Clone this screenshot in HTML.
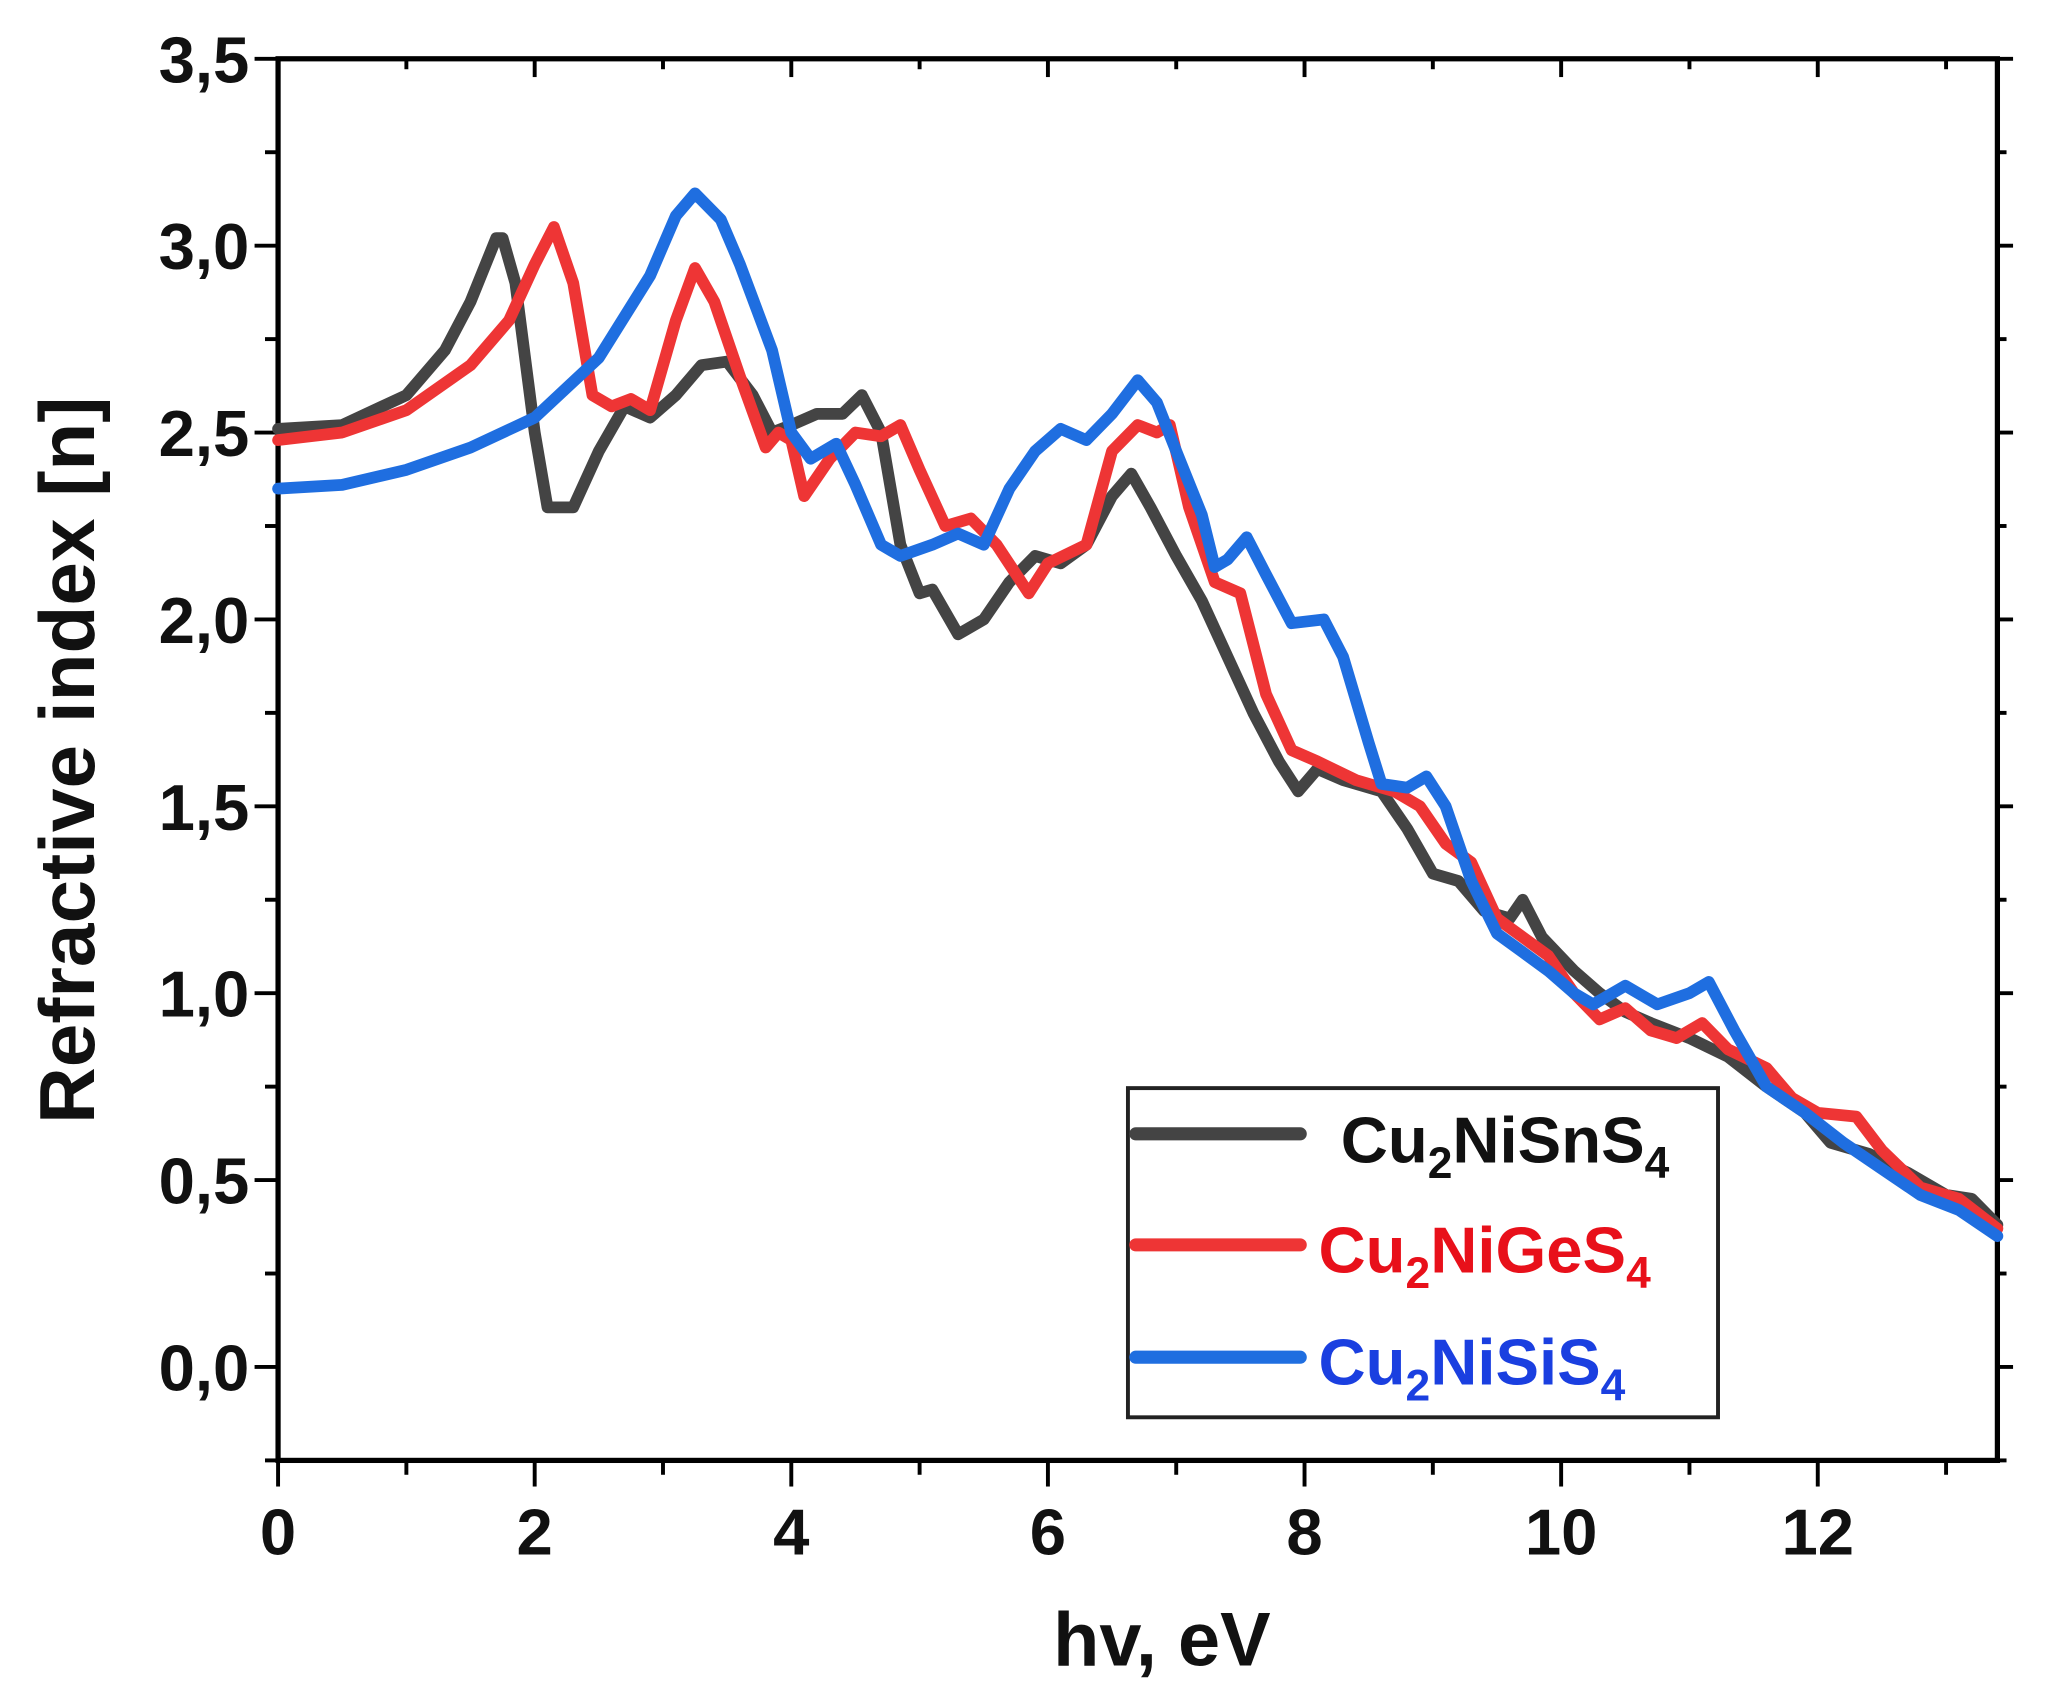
<!DOCTYPE html>
<html><head><meta charset="utf-8"><style>
html,body{margin:0;padding:0;background:#fff;}
svg{display:block;}
text{font-family:"Liberation Sans",Arial,sans-serif;font-weight:bold;}
</style></head><body>
<svg id="chart" width="2047" height="1689" viewBox="0 0 1568 1293" preserveAspectRatio="none" xmlns="http://www.w3.org/2000/svg">
<g id="axes"></g>
<g id="series"></g>
<g id="legend">
<rect x="864" y="833" width="452" height="252" fill="#fff" stroke="#222" stroke-width="3"/>
<line x1="870" y1="868" x2="996" y2="868" stroke="#444" stroke-width="10" stroke-linecap="round"/>
<line x1="870" y1="953" x2="996" y2="953" stroke="#ee3535" stroke-width="10" stroke-linecap="round"/>
<line x1="870" y1="1039" x2="996" y2="1039" stroke="#1f6ee0" stroke-width="10" stroke-linecap="round"/>
<text x="1027" y="890" font-size="50" fill="#111">Cu<tspan font-size="34" dy="12">2</tspan><tspan dy="-12">NiSnS</tspan><tspan font-size="34" dy="12">4</tspan></text>
<text x="1010" y="974" font-size="50" fill="#e8101a">Cu<tspan font-size="34" dy="12">2</tspan><tspan dy="-12">NiGeS</tspan><tspan font-size="34" dy="12">4</tspan></text>
<text x="1010" y="1060" font-size="50" fill="#1a3fe0">Cu<tspan font-size="34" dy="12">2</tspan><tspan dy="-12">NiSiS</tspan><tspan font-size="34" dy="12">4</tspan></text>
</g>
<text x="890" y="1275" font-size="58" text-anchor="middle" fill="#111">hv, eV</text>
<text transform="translate(72,582) rotate(-90)" font-size="60" text-anchor="middle" fill="#111">Refractive index [n]</text>
</svg>
<script>
const xTicks = [0,2,4,6,8,10,12];
const yTicks = [0.0,0.5,1.0,1.5,2.0,2.5,3.0,3.5];
const yTickLabels = ["0,0","0,5","1,0","1,5","2,0","2,5","3,0","3,5"];
const snX = [0,0.5,1,1.3,1.5,1.7,1.75,1.85,2.0,2.1,2.3,2.5,2.7,2.9,3.1,3.3,3.5,3.7,3.85,4.0,4.2,4.4,4.55,4.7,4.85,5.0,5.1,5.3,5.5,5.7,5.9,6.1,6.3,6.5,6.65,6.8,7.0,7.2,7.4,7.6,7.8,7.95,8.1,8.3,8.6,8.8,9.0,9.2,9.4,9.6,9.7,9.85,10.1,10.3,10.5,10.7,11.0,11.3,11.6,11.9,12.1,12.4,12.7,13.0,13.2,13.4];
const snY = [2.51,2.52,2.6,2.72,2.85,3.02,3.02,2.9,2.5,2.3,2.3,2.45,2.57,2.54,2.6,2.68,2.69,2.6,2.5,2.52,2.55,2.55,2.6,2.5,2.2,2.07,2.08,1.96,2.0,2.1,2.17,2.15,2.2,2.33,2.39,2.3,2.17,2.05,1.9,1.75,1.62,1.54,1.6,1.57,1.54,1.44,1.32,1.3,1.22,1.2,1.25,1.15,1.06,1.0,0.95,0.92,0.88,0.83,0.75,0.68,0.6,0.57,0.52,0.46,0.45,0.38];
const geX = [0,0.5,1,1.5,1.8,2.0,2.15,2.3,2.45,2.6,2.75,2.9,3.1,3.25,3.4,3.6,3.8,3.9,4.0,4.1,4.3,4.5,4.7,4.85,5.0,5.2,5.4,5.6,5.85,6.0,6.3,6.5,6.7,6.85,6.95,7.1,7.3,7.5,7.7,7.9,8.1,8.4,8.7,8.9,9.1,9.3,9.5,9.7,9.9,10.1,10.3,10.5,10.7,10.9,11.1,11.3,11.6,11.8,12.0,12.3,12.5,12.8,13.1,13.4];
const geY = [2.48,2.5,2.56,2.68,2.8,2.95,3.05,2.9,2.6,2.57,2.59,2.56,2.8,2.94,2.85,2.65,2.46,2.5,2.48,2.33,2.43,2.5,2.49,2.52,2.4,2.25,2.27,2.2,2.07,2.15,2.2,2.45,2.52,2.5,2.52,2.3,2.1,2.07,1.8,1.65,1.62,1.57,1.54,1.5,1.4,1.35,1.2,1.15,1.1,1.0,0.93,0.96,0.9,0.88,0.92,0.85,0.8,0.72,0.68,0.67,0.58,0.48,0.45,0.37];
const siX = [0,0.5,1,1.5,2,2.5,2.9,3.1,3.25,3.45,3.6,3.85,4.0,4.15,4.35,4.5,4.7,4.85,5.1,5.3,5.5,5.7,5.9,6.1,6.3,6.5,6.7,6.85,7.0,7.2,7.3,7.4,7.55,7.7,7.9,8.15,8.3,8.5,8.6,8.8,8.95,9.1,9.3,9.5,9.7,9.9,10.1,10.25,10.5,10.75,11.0,11.15,11.35,11.6,11.9,12.2,12.5,12.8,13.1,13.4];
const siY = [2.35,2.36,2.4,2.46,2.54,2.7,2.92,3.08,3.14,3.07,2.95,2.72,2.5,2.43,2.47,2.36,2.2,2.17,2.2,2.23,2.2,2.35,2.45,2.51,2.48,2.55,2.64,2.58,2.45,2.28,2.14,2.16,2.22,2.12,1.99,2.0,1.9,1.67,1.56,1.55,1.58,1.5,1.3,1.16,1.11,1.06,1.0,0.97,1.02,0.97,1.0,1.03,0.9,0.75,0.68,0.6,0.53,0.46,0.42,0.35];

const L=213,R=1530,T=45,B=1118;
const X0=0,X1=13.4,Y0=-0.25,Y1=3.5;
const sx=v=>L+(v-X0)/(X1-X0)*(R-L);
const sy=v=>B-(v-Y0)/(Y1-Y0)*(B-T);
const NS="http://www.w3.org/2000/svg";
function mk(tag,attrs,parent){const e=document.createElementNS(NS,tag);for(const k in attrs)e.setAttribute(k,attrs[k]);parent.appendChild(e);return e;}
const ax=document.getElementById('axes');
let frame=mk('rect',{x:L,y:T,width:R-L,height:B-T,fill:'none',stroke:'#000','stroke-width':4},ax);


for(let v=0;v<=13;v++){
  const maj=v%2===0, x=sx(v);
  let t=mk('line',{x1:x,y1:B,x2:x,y2:B+(maj?20:11),stroke:'#000','stroke-width':3},ax);
  
  
  let t2=mk('line',{x1:x,y1:T,x2:x,y2:T+(maj?14:8),stroke:'#000','stroke-width':3},ax);
  
  
}
xTicks.forEach(v=>{
  let tx=mk('text',{x:sx(v),y:B+72,'font-size':50,'text-anchor':'middle',fill:'#111'},ax);
  tx.textContent=String(v);
  
  
});
for(let v=-0.25;v<=3.5001;v+=0.25){
  const maj=Math.abs(v*2-Math.round(v*2))<1e-6, y=sy(v);
  let t=mk('line',{x1:L,y1:y,x2:L-(maj?18:10),y2:y,stroke:'#000','stroke-width':3},ax);
  
  
  let t2=mk('line',{x1:R,y1:y,x2:R+(maj?12:7),y2:y,stroke:'#000','stroke-width':3},ax);
  
  
}
yTicks.forEach((v,i)=>{
  let tx=mk('text',{x:L-22,y:sy(v)+18,'font-size':50,'text-anchor':'end',fill:'#111'},ax);
  tx.textContent=yTickLabels[i];
  
  
});
const sg=document.getElementById('series');
function draw(xs,ys,color,name){
  const pts=xs.map((x,i)=>sx(x).toFixed(1)+','+sy(ys[i]).toFixed(1)).join(' ');
  let p=mk('polyline',{points:pts,fill:'none',stroke:color,'stroke-width':9,'stroke-linejoin':'round','stroke-linecap':'round'},sg);
  
  
}
draw(snX,snY,'#444','series-cu2nisns4');
draw(geX,geY,'#ee3535','series-cu2niges4');
draw(siX,siY,'#1f6ee0','series-cu2nisis4');
</script>
</body></html>
